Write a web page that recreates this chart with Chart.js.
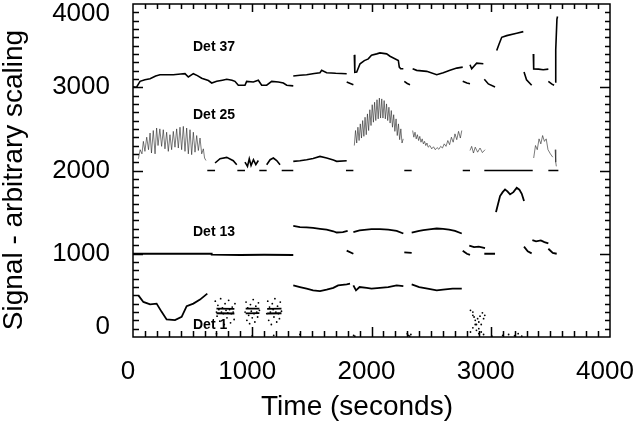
<!DOCTYPE html>
<html>
<head>
<meta charset="utf-8">
<script src="https://cdn.jsdelivr.net/npm/chart.js"></script>
<style>html,body{margin:0;padding:0;background:#fff}</style>
</head>
<body>
<canvas id="chart" width="636" height="422"></canvas>
<script>
// axis ticks
const xTicks = [0, 1000, 2000, 3000, 4000];
const yTicks = [0, 1000, 2000, 3000, 4000];
const xTitle = 'Time (seconds)';
const yTitle = 'Signal - arbitrary scaling';
const detNames = ['Det 37', 'Det 25', 'Det 13', 'Det 1'];

// Det 37 (null = break in the trace)
const det37Time = [0, 30, 59, 100, 143, 190, 226, 280, 338, 400, 436, 464, 506, 540, 576, 632, 660, 702, 750, 786, 830, 855, 883, 939, 953, 1009, 1051, 1079, 1121, 1163, 1219, 1261, 1289, 1344, null,
  1344, 1400, 1456, 1520, 1568, 1582, 1624, 1700, 1792, null,
  1792, 1848, null,
  1856, 1860, 1876, 1904, 1940, 1973, 2000, 2044, 2071, 2127, 2155, 2225, 2233, 2245, 2267, null,
  2275, 2300, 2323, null,
  2345, 2379, 2463, 2547, 2602, 2658, 2715, 2765, null,
  2765, 2800, 2826, null,
  2826, 2840, 2882, 2938, null,
  2946, 2980, 3036, null,
  3050, 3070, 3092, 3134, 3218, 3273, null,
  3279, 3300, 3343, null,
  3357, 3360, 3400, 3440, 3483, null,
  3483, 3510, 3531, null,
  3539, 3545, 3555, 3560];
const det37Signal = [3004, 3000, 3071, 3090, 3103, 3135, 3151, 3150, 3151, 3160, 3163, 3123, 3163, 3140, 3108, 3080, 3051, 3071, 3085, 3096, 3085, 3071, 3024, 3024, 3071, 3063, 3084, 3024, 3024, 3071, 3063, 3051, 3024, 3016, null,
  3135, 3145, 3151, 3165, 3175, 3203, 3175, 3168, 3163, null,
  3063, 3031, null,
  3389, 3180, 3183, 3282, 3320, 3341, 3385, 3401, 3413, 3401, 3373, 3322, 3242, 3222, 3222, null,
  3071, 3045, 3031, null,
  3222, 3203, 3191, 3151, 3175, 3203, 3230, 3242, null,
  3071, 3050, 3043, null,
  3270, 3222, 3290, 3282, null,
  3095, 3040, 3004, null,
  3441, 3520, 3600, 3620, 3648, 3668, null,
  3183, 3090, 3024, null,
  3400, 3220, 3218, 3210, 3218, null,
  3071, 3040, 3024, null,
  3063, 3450, 3818, 3850];

// Det 25, smooth parts and flagged pieces at the 2000 level
const det25Time = [688, 730, 786, 841, 870, null,
  939, 960, 975, 990, 1010, 1030, 1051, null,
  1121, 1150, 1177, 1205, 1233, null,
  1344, 1400, 1456, 1510, 1568, 1624, 1680, 1708, 1792, null,
  623, 688, null, 875, 939, null, 1059, 1121, null, 1247, 1344, null, 1786, 1848, null,
  2275, 2337, null, 2765, 2826, null, 2946, 3352, null, 3483, 3567];
const det25Signal = [2090, 2142, 2158, 2118, 2070, null,
  2100, 2050, 2140, 2060, 2130, 2070, 2120, null,
  2070, 2130, 2150, 2120, 2070, null,
  2110, 2118, 2130, 2145, 2169, 2150, 2125, 2110, 2118, null,
  2000, 2000, null, 2000, 2000, null, 2000, 2000, null, 2000, 2000, null, 2000, 2000, null,
  2000, 2000, null, 2000, 2000, null, 2000, 2000, null, 2000, 2000];

// Det 25, noisy (hatched) parts
const det25NoisyTime = [45, 60, 75, 87, 100, 115, 130, 143, 155, 170, 185, 198, 210, 225, 240, 254, 268, 282, 296, 310, 324, 338, 352, 366, 380, 394, 408, 422, 436, 450, 464, 478, 492, 506, 520, 534, 548, 562, 576, 590, 600, 612, null,
  1856, 1866, 1876, 1886, 1896, 1906, 1916, 1926, 1936, 1946, 1956, 1966, 1976, 1986, 1996, 2006, 2016, 2026, 2036, 2046, 2056, 2066, 2076, 2086, 2096, 2106, 2116, 2126, 2136, 2146, 2156, 2166, 2176, 2186, 2196, 2206, 2216, 2226, 2236, 2246, 2256, 2266, null,
  2345, 2355, 2365, 2375, 2385, 2395, 2405, 2415, 2425, 2435, 2445, 2455, 2465, 2475, 2490, 2505, 2520, 2535, 2550, 2565, 2580, 2595, 2610, 2625, 2640, 2655, 2670, 2685, 2700, 2715, 2730, 2745, 2757, null,
  2826, 2840, 2855, 2870, 2890, 2910, 2930, 2952, null,
  3360, 3375, 3390, 3405, 3420, 3435, 3450, 3465, 3480, 3500, 3520, null,
  3540, 3545, 3550];
const det25NoisySignal = [2140, 2250, 2200, 2350, 2230, 2400, 2250, 2450, 2210, 2480, 2200, 2510, 2300, 2500, 2290, 2490, 2260, 2460, 2230, 2430, 2250, 2470, 2280, 2500, 2270, 2520, 2250, 2530, 2230, 2510, 2200, 2490, 2190, 2460, 2220, 2420, 2240, 2390, 2200, 2260, 2150, 2120, null,
  2300, 2480, 2330, 2520, 2360, 2560, 2390, 2600, 2410, 2640, 2430, 2680, 2480, 2730, 2540, 2790, 2580, 2820, 2600, 2850, 2620, 2870, 2630, 2860, 2630, 2840, 2620, 2800, 2600, 2760, 2570, 2720, 2520, 2670, 2470, 2620, 2420, 2560, 2370, 2500, 2330, 2380, null,
  2480, 2400, 2460, 2380, 2430, 2360, 2410, 2340, 2380, 2320, 2350, 2300, 2330, 2280, 2300, 2260, 2285, 2250, 2275, 2255, 2290, 2270, 2320, 2290, 2360, 2310, 2400, 2340, 2440, 2370, 2470, 2390, 2480, null,
  2240, 2290, 2210, 2280, 2220, 2270, 2215, 2250, null,
  2150, 2300, 2250, 2380, 2320, 2420, 2350, 2380, 2250, 2200, 2160, null,
  2250, 2100, 2050];

// Det 13
const det13Time = [0, 660, 660, 900, 1100, 1344, null,
  1344, 1400, 1456, 1510, 1568, 1624, 1680, 1708, 1760, 1800, null,
  1848, 1900, 1960, 2000, 2071, 2140, 2211, 2267, null,
  2337, 2400, 2435, 2500, 2547, 2600, 2650, 2700, 2757, null,
  1792, 1848, null, 2275, 2337, null, 2765, 2800, 2826, null,
  2820, 2860, 2900, 2952, null, 2946, 3036, null,
  3044, 3050, 3078, 3100, 3120, 3140, 3162, 3190, 3218, 3240, 3260, 3279, null,
  3279, 3310, 3343, null,
  3349, 3380, 3420, 3450, 3483, null,
  3483, 3520, 3553];
const det13Signal = [1000, 1000, 990, 985, 988, 985, null,
  1335, 1320, 1318, 1310, 1300, 1290, 1270, 1255, 1260, 1275, null,
  1260, 1280, 1290, 1295, 1295, 1290, 1275, 1243, null,
  1255, 1275, 1284, 1295, 1303, 1300, 1290, 1275, 1243, null,
  1037, 1000, null, 1017, 1010, null, 1037, 1000, 986, null,
  1097, 1080, 1085, 1069, null, 1000, 1000, null,
  1500, 1534, 1693, 1740, 1772, 1750, 1713, 1740, 1792, 1770, 1720, 1633, null,
  1085, 1030, 1005, null,
  1164, 1150, 1160, 1140, 1124, null,
  1060, 1010, 1000];

// Det 1
const det1Time = [45, 87, 143, 198, 240, 282, 352, 408, 450, 506, 562, 623, null,
  700, 850, null, 700, 850, null, 945, 1060, null, 945, 1060, null, 1125, 1245, null, 1125, 1245, null,
  1344, 1400, 1456, 1510, 1568, 1624, 1680, 1720, 1792, 1820, null,
  1848, 1870, 1900, 1960, 2000, 2071, 2140, 2211, 2267, null,
  2337, 2400, 2470, 2547, 2600, 2680, 2757];
const det1Signal = [500, 421, 393, 401, 302, 211, 203, 242, 370, 401, 449, 521, null,
  342, 338, null, 285, 282, null, 340, 342, null, 284, 286, null, 338, 340, null, 282, 285, null,
  620, 600, 580, 560, 552, 570, 590, 620, 632, 640, null,
  620, 560, 600, 590, 580, 590, 600, 620, 610, null,
  632, 600, 580, 560, 570, 580, 580];

// Det 1, scattered samples
const det1DotTime = [690, 700, 705, 712, 720, 728, 735, 742, 750, 758, 765, 772, 780, 788, 795, 802, 810, 818, 825, 832, 840, 848, 855,
  940, 948, 955, 962, 970, 978, 985, 992, 1000, 1008, 1015, 1022, 1030, 1038, 1045, 1052, 1060,
  1122, 1130, 1138, 1145, 1152, 1160, 1168, 1175, 1182, 1190, 1198, 1205, 1212, 1220, 1228, 1235, 1245,
  2830, 2850, 2870, 2880, 2900, 2920, 2940, 2830, 2850, 2870, 2890, 2910, 2930, 2950, 2860, 2900, 2940, 2880, 2920, 2850, 2900,
  700, 1000, 1180, 1400, 1850, 1860, 2300, 2310, 2320, 2330, 3010, 3100, 3150, 3200, 3230, 3260];
const det1DotSignal = [430, 300, 250, 380, 330, 190, 460, 300, 350, 280, 150, 400, 320, 230, 290, 440, 330, 170, 280, 360, 300, 210, 400,
  300, 420, 200, 350, 260, 160, 390, 310, 230, 450, 280, 180, 370, 300, 240, 410, 320,
  280, 430, 200, 360, 300, 150, 400, 330, 240, 460, 300, 180, 370, 280, 220, 420, 310,
  320, 260, 200, 150, 100, 60, 30, 60, 110, 150, 220, 250, 290, 260, 240, 180, 220, 80, 150, 300, 40,
  40, 15, 20, 30, 20, 10, 40, 20, 10, 30, 10, 20, 30, 15, 40, 10];

const toPoints = (times, values) => times.map((t, i) => ({ x: t, y: values[i] }));

const trace = (data, width, color) => ({
  data: data,
  showLine: true,
  borderColor: color || '#000',
  borderWidth: width,
  pointRadius: 0,
  spanGaps: false
});

const frameAndText = {
  id: 'frameAndText',
  afterDraw(chart) {
    const ctx = chart.ctx;
    const a = chart.chartArea;
    const xs = chart.scales.x;
    const ys = chart.scales.y;
    ctx.save();
    ctx.strokeStyle = '#000';
    ctx.lineWidth = 1.5;
    ctx.strokeRect(a.left, a.top, a.right - a.left, a.bottom - a.top);
    ctx.beginPath();
    for (let v = 100; v < 4000; v += 100) {
      const major = v % 1000 === 0;
      const px = Math.round(xs.getPixelForValue(v)) + 0.5;
      ctx.moveTo(px, a.bottom); ctx.lineTo(px, a.bottom - (major ? 10 : 6));
      ctx.moveTo(px, a.top); ctx.lineTo(px, a.top + (major ? 8 : 5));
      const py = Math.round(ys.getPixelForValue(v)) + 0.5;
      ctx.moveTo(a.left, py); ctx.lineTo(a.left + (major ? 10 : 6), py);
      ctx.moveTo(a.right, py); ctx.lineTo(a.right - (major ? 10 : 5), py);
    }
    ctx.stroke();

    ctx.fillStyle = '#000';
    ctx.font = '26px "Liberation Sans", Arial, sans-serif';
    ctx.textAlign = 'right';
    ctx.textBaseline = 'middle';
    yTicks.forEach(v => {
      const y = Math.min(Math.max(ys.getPixelForValue(v), a.top + 10), a.bottom - 10);
      ctx.fillText(String(v), 110, y);
    });

    ctx.font = '28px "Liberation Sans", Arial, sans-serif';
    ctx.textAlign = 'center';
    ctx.fillText(xTitle, 357, 407);
    ctx.save();
    ctx.translate(14, 180);
    ctx.rotate(-Math.PI / 2);
    ctx.fillText(yTitle, 0, 0);
    ctx.restore();

    ctx.font = 'bold 14px "Liberation Sans", Arial, sans-serif';
    ctx.textAlign = 'left';
    const labelY = [47, 115, 232, 325];
    detNames.forEach((name, i) => ctx.fillText(name, 193, labelY[i]));
    ctx.restore();
  }
};

new Chart(document.getElementById('chart'), {
  type: 'scatter',
  data: {
    datasets: [
      trace(toPoints(det37Time, det37Signal), 1.6),
      trace(toPoints(det25Time, det25Signal), 1.6),
      trace(toPoints(det25NoisyTime, det25NoisySignal), 0.6, '#222'),
      trace(toPoints(det13Time, det13Signal), 1.8),
      trace(toPoints(det1Time, det1Signal), 1.8),
      {
        data: toPoints(det1DotTime, det1DotSignal),
        pointRadius: 0.9,
        pointBorderWidth: 0,
        backgroundColor: '#000',
        borderColor: '#000'
      }
    ]
  },
  options: {
    responsive: false,
    animation: false,
    devicePixelRatio: 1,
    layout: { padding: { top: 1, right: 26, left: 0, bottom: 0 } },
    plugins: { legend: { display: false }, tooltip: { enabled: false } },
    scales: {
      x: {
        type: 'linear',
        min: 0,
        max: 4000,
        grid: { display: false },
        border: { display: false },
        afterFit: s => { s.height = 85; s.paddingLeft = 0; s.paddingRight = 0; },
        afterBuildTicks: s => { s.ticks = xTicks.map(v => ({ value: v })); },
        ticks: {
          color: '#000',
          padding: 11,
          labelOffset: -5,
          maxRotation: 0,
          autoSkip: false,
          callback: v => String(v),
          font: { family: '"Liberation Sans", Arial, sans-serif', size: 26 }
        }
      },
      y: {
        type: 'linear',
        min: 0,
        max: 4000,
        grid: { display: false },
        border: { display: false },
        afterFit: s => { s.width = 133; s.paddingTop = 0; s.paddingBottom = 0; },
        ticks: { display: false }
      }
    }
  },
  plugins: [frameAndText]
});
</script>
</body>
</html>
